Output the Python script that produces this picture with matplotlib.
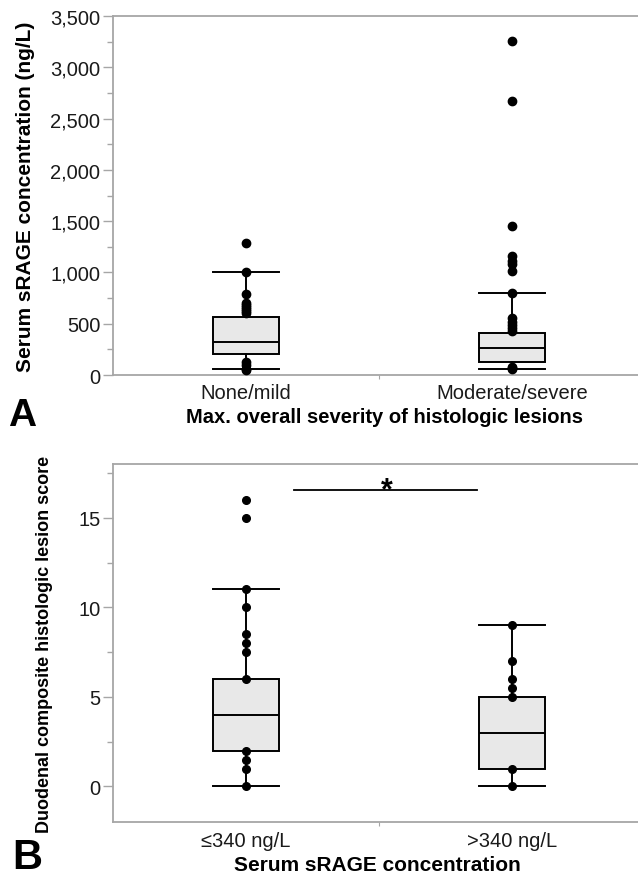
import matplotlib
matplotlib.use("Agg")
import matplotlib.pyplot as plt
from matplotlib.ticker import MultipleLocator, FuncFormatter

plt.rcParams["font.family"] = ["Liberation Sans", "DejaVu Sans"]

# Panel A: sRAGE by lesion severity
a_groups = ["None/mild", "Moderate/severe"]
a_stats = [  # q1, median, q3, whisker low, whisker high
    (204, 324, 568, 58, 1006),
    (130, 260, 409, 58, 799),
]
a_points = [
    [1283, 1006, 786, 700, 680, 660, 640, 620, 600, 130, 100, 60, 50],
    [3260, 2675, 1448, 1156, 1110, 1081, 1010, 799, 560, 520, 490, 460,
     430, 80, 65, 55],
]

# Panel B: lesion score by sRAGE group
b_groups = ["\u2264340 ng/L", ">340 ng/L"]
b_stats = [
    (2, 4, 6, 0, 11),
    (1, 3, 5, 0, 9),
]
b_points = [
    [16, 15, 11, 10, 8.5, 8, 7.5, 6, 2, 1.5, 1, 0],
    [9, 7, 6, 5.5, 5, 1, 0],
]
sig_y = 16.55

GRAY = "#a6a6a6"
BOXFILL = "#e8e8e8"


def draw_panel(ax, groups, stats, points, ms):
    bxp_stats = []
    for name, (q1, med, q3, lo, hi) in zip(groups, stats):
        bxp_stats.append(dict(label=name, q1=q1, med=med, q3=q3,
                              whislo=lo, whishi=hi, fliers=[]))
    ax.bxp(bxp_stats, positions=range(len(groups)), widths=0.245,
           patch_artist=True, showfliers=False,
           boxprops=dict(facecolor=BOXFILL, edgecolor="black", lw=1.4),
           medianprops=dict(color="black", lw=1.4),
           whiskerprops=dict(color="black", lw=1.4),
           capprops=dict(color="black", lw=1.4), capwidths=0.245)
    for i, vals in enumerate(points):
        ax.plot([i] * len(vals), vals, "o", color="black", ms=ms, zorder=5,
                clip_on=False)
    ax.set_xlim(-0.5, 1.5)
    ax.set_xticks(range(len(groups)))
    ax.set_xticklabels(groups, fontsize=14.5, color="#1a1a1a")
    ax.tick_params(axis="x", length=0, pad=6)
    ax.set_xticks([0.5], minor=True)
    ax.tick_params(axis="x", which="minor", length=3, color=GRAY, width=0.8)
    ax.tick_params(axis="y", which="major", length=7, color=GRAY, width=1,
                   labelsize=14.5, labelcolor="#1a1a1a", pad=2)
    ax.tick_params(axis="y", which="minor", length=4, color=GRAY, width=1)
    for side in ["left", "top", "bottom", "right"]:
        ax.spines[side].set_color(GRAY)
        ax.spines[side].set_linewidth(1.3)


fig = plt.figure(figsize=(6.38, 8.79), dpi=100, facecolor="white")

axA = fig.add_axes([0.1771, 0.5722, 0.834, 0.4085])
draw_panel(axA, a_groups, a_stats, a_points, ms=6)
axA.set_ylim(0, 3500)
axA.yaxis.set_major_locator(MultipleLocator(500))
axA.yaxis.set_minor_locator(MultipleLocator(250))
axA.yaxis.set_major_formatter(FuncFormatter(lambda v, p: f"{int(v):,}"))
axA.set_ylabel("Serum sRAGE concentration (ng/L)", fontsize=15,
               fontweight="bold", labelpad=11)

axB = fig.add_axes([0.1771, 0.0634, 0.834, 0.4076])
draw_panel(axB, b_groups, b_stats, b_points, ms=5.5)
axB.set_ylim(-2, 18)
axB.yaxis.set_major_locator(MultipleLocator(5))
axB.yaxis.set_minor_locator(MultipleLocator(2.5))
axB.set_ylabel("Duodenal composite histologic lesion score", fontsize=13,
               fontweight="bold", labelpad=18)
axB.plot([0.18, 0.87], [sig_y, sig_y], color="black", lw=1.3)
axB.text(0.53, 16.1, "*", ha="center", va="baseline", fontsize=22,
         fontweight="bold")

fig.text(385 / 638, 1 - 418 / 879, "Max. overall severity of histologic lesions",
         ha="center", va="center", fontsize=14.5, fontweight="bold")
fig.text(377 / 638, 1 - 866 / 879, "Serum sRAGE concentration",
         ha="center", va="center", fontsize=15, fontweight="bold")
fig.text(8 / 638, 1 - 426 / 879, "A", ha="left", va="baseline",
         fontsize=28, fontweight="bold")
fig.text(12 / 638, 1 - 869 / 879, "B", ha="left", va="baseline",
         fontsize=30, fontweight="bold")

fig.savefig("out.png", dpi=100, facecolor="white")
